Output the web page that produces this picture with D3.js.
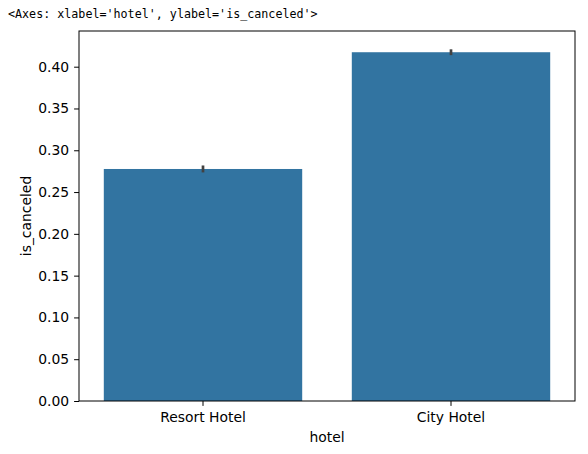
<!DOCTYPE html>
<html>
<head>
<meta charset="utf-8">
<script src="https://cdn.jsdelivr.net/npm/d3@7"></script>
<style>
  body { margin: 0; background: #fff; }
  text { font-family: "DejaVu Sans", sans-serif; }
</style>
</head>
<body>
<script>
var hotels = ["Resort Hotel", "City Hotel"];
var cancelRate = [0.2776, 0.4173];
var ciLow = [0.2735, 0.4138];
var ciHigh = [0.2818, 0.4208];
var yTicks = [0, 0.05, 0.10, 0.15, 0.20, 0.25, 0.30, 0.35, 0.40];

var width = 588, height = 454;
var axLeft = 79, axRight = 575, axTop = 31, axBottom = 401;

var svg = d3.select("body").append("svg")
  .attr("width", width)
  .attr("height", height);

svg.append("text")
  .attr("x", 8)
  .attr("y", 18)
  .style("font-family", "'DejaVu Sans Mono', monospace")
  .style("font-size", "11.7px")
  .attr("fill", "#000")
  .text("<Axes: xlabel='hotel', ylabel='is_canceled'>");

var x = d3.scaleBand().domain(hotels).range([axLeft, axRight]).paddingInner(0.2).paddingOuter(0.1);
var y = d3.scaleLinear().domain([0, 0.4427]).range([axBottom, axTop]);

var data = hotels.map(function(h, i) {
  return {hotel: h, v: cancelRate[i], lo: ciLow[i], hi: ciHigh[i]};
});

svg.append("g").selectAll("rect")
  .data(data)
  .enter().append("rect")
  .attr("x", function(d) { return x(d.hotel); })
  .attr("width", x.bandwidth())
  .attr("y", function(d) { return y(d.v); })
  .attr("height", function(d) { return y(0) - y(d.v); })
  .attr("fill", "#3274a1");

svg.append("g").selectAll("line")
  .data(data)
  .enter().append("line")
  .attr("x1", function(d) { return x(d.hotel) + x.bandwidth() / 2; })
  .attr("x2", function(d) { return x(d.hotel) + x.bandwidth() / 2; })
  .attr("y1", function(d) { return y(d.lo); })
  .attr("y2", function(d) { return y(d.hi); })
  .attr("stroke", "#424242")
  .attr("stroke-width", 2.7);

var yAxis = svg.append("g")
  .attr("transform", "translate(" + axLeft + ",0)")
  .call(d3.axisLeft(y).tickValues(yTicks).tickFormat(d3.format(".2f")).tickSize(4.9).tickPadding(4.9));

var xAxis = svg.append("g")
  .attr("transform", "translate(0," + axBottom + ")")
  .call(d3.axisBottom(x).tickSize(4.9).tickPadding(6));

[xAxis, yAxis].forEach(function(a) {
  a.select(".domain").remove();
  a.selectAll("line").attr("stroke", "#000").attr("stroke-width", 1);
  a.selectAll("text").style("font-size", "13.9px").style("font-family", "'DejaVu Sans', sans-serif").attr("fill", "#000");
});

svg.append("rect")
  .attr("x", axLeft)
  .attr("y", axTop)
  .attr("width", axRight - axLeft)
  .attr("height", axBottom - axTop)
  .attr("fill", "none")
  .attr("stroke", "#000")
  .attr("stroke-width", 1);

svg.append("text")
  .attr("x", (axLeft + axRight) / 2)
  .attr("y", 442)
  .attr("text-anchor", "middle")
  .style("font-size", "13.9px")
  .text("hotel");

svg.append("text")
  .attr("transform", "translate(31," + (axTop + axBottom) / 2 + ") rotate(-90)")
  .attr("text-anchor", "middle")
  .style("font-size", "13.9px")
  .text("is_canceled");
</script>
</body>
</html>
